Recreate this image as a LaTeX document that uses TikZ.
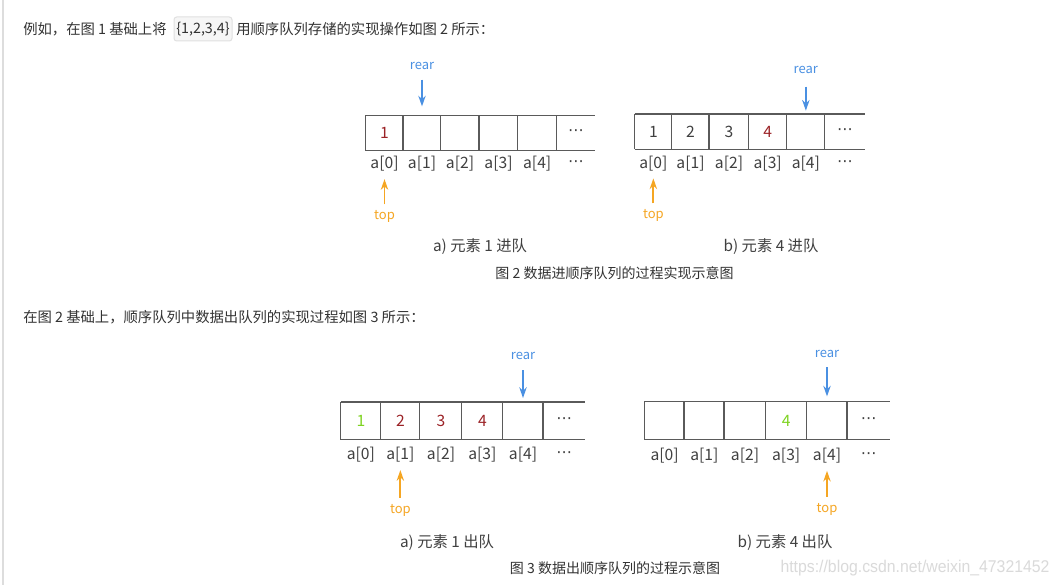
\documentclass[tikz,border=0pt]{standalone}
\usepackage{fontspec}
\setmainfont{Noto Sans CJK SC}
\newfontfamily\wmfont{Liberation Sans}
\newfontfamily\symfont{DejaVu Sans}
\usetikzlibrary{arrows.meta}
\definecolor{txt}{HTML}{333333}
\definecolor{lab}{HTML}{404040}
\definecolor{qline}{HTML}{5A5A5A}
\definecolor{qred}{HTML}{9B2226}
\definecolor{qgreen}{HTML}{7ED321}
\definecolor{rearblue}{HTML}{4A90E2}
\definecolor{toporange}{HTML}{F5A623}
\definecolor{codefill}{HTML}{F6F6F6}
\definecolor{codeline}{HTML}{E0E0E0}
\definecolor{wmark}{HTML}{DADADA}
\definecolor{leftline}{HTML}{DDDDDD}
\newcommand\qdots{{\symfont ⋯}}
\newcommand\myqueue[5]{%
  \foreach \i/\xl/\xr/\tx/\cc in {#2} {
    \node[cellbox, text=\cc, minimum width={(\xr-\xl)*0.75pt}, minimum height={(#4-#3)*0.75pt}]
      (#1\i) at ({(\xl+\xr)/2},{(#3+#4)/2}) {\tx};
    \node[idx] (#1l\i) at ({(\xl+\xr)/2},#5) {\ifnum\i<5 a[\i]\else\qdots\fi};
  }
  \draw[qedge] (#10.north west) -- (#15.north east) (#10.south west) -- (#15.south east);
  \foreach \i in {0,...,5} \draw[qedge] (#1\i.north west) -- (#1\i.south west);
}
\begin{document}
\begin{tikzpicture}[x=0.75pt,y=-0.75pt,
  paratext/.style={font=\fontsize{10.75pt}{12pt}\selectfont, text=txt, inner sep=0, anchor=west},
  captext/.style={font=\fontsize{11.5pt}{13pt}\selectfont, text=lab, inner sep=0},
  figcap/.style={font=\fontsize{10.5pt}{12pt}\selectfont, text=txt, inner sep=0},
  cellbox/.style={inner sep=0, font=\fontsize{11.75pt}{13pt}\selectfont},
  idx/.style={inner sep=0, font=\fontsize{11.75pt}{13pt}\selectfont, text=lab},
  ptr/.style={inner sep=0, font=\fontsize{9.75pt}{11pt}\selectfont},
  qedge/.style={draw=qline, line width=0.95pt},
  reararrow/.style={draw=rearblue, line width=1.3pt, -{Stealth[length=8pt,width=5.5pt]}},
  toparrow/.style={draw=toporange, line width=1.3pt, -{Stealth[length=8pt,width=5.5pt]}, shorten <=4.5pt, shorten >=5.5pt},
  codebox/.style={draw=codeline, fill=codefill, rounded corners=2pt, line width=0.75pt,
    minimum width=43.5pt, minimum height=18pt, inner sep=0,
    font=\fontsize{10.75pt}{12pt}\selectfont, text=txt}
]
\useasboundingbox (0,0) rectangle (1060,585);
\fill[white] (0,0) rectangle (1060,585);
\draw[leftline, line width=1.5pt] (2.5,0) -- (2.5,585);

% paragraph 1
\node[paratext] (p1a) at (23,29) {例如，在图 1 基础上将};
\node[codebox] (code) at (203,29) {\{1,2,3,4\}};
\node[paratext] (p1b) at (236,29) {用顺序队列存储的实现操作如图 2 所示：};

% figure 2 a
\myqueue{A}{0/365.7/403.3/1/qred, 1/403.3/440.7//lab, 2/440.7/479.3//lab, 3/479.3/517.7//lab, 4/517.7/556.7//lab, 5/556.7/595/\qdots/lab}{116}{150}{164}
\node[ptr, text=rearblue] (rA) at (A1 |- 0,65.7) {rear};
\draw[reararrow, shorten <=7.5pt, shorten >=7pt] (rA) -- (A1);
\node[ptr, text=toporange] (tA) at (Al0 |- 0,216.7) {top};
\draw[toparrow] (tA) -- (Al0);

% figure 2 b
\myqueue{B}{0/635/671.7/1/lab, 1/671.7/709.3/2/lab, 2/709.3/748.7/3/lab, 3/748.7/786.7/4/qred, 4/786.7/825//lab, 5/825/865/\qdots/lab}{114.3}{149}{163.3}
\node[ptr, text=rearblue] (rB) at (B4 |- 0,70) {rear};
\draw[reararrow, shorten <=9.4pt, shorten >=2.5pt] (rB) -- (B4);
\node[ptr, text=toporange] (tB) at (Bl0 |- 0,215.7) {top};
\draw[toparrow] (tB) -- (Bl0);

\node[captext] (capA) at (480,247) {a) 元素 1 进队};
\node[captext] (capB) at (771,247) {b) 元素 4 进队};
\node[figcap] (fig2) at (614.5,273) {图 2 数据进顺序队列的过程实现示意图};

% paragraph 2
\node[paratext] (p2) at (23,317) {在图 2 基础上，顺序队列中数据出队列的实现过程如图 3 所示：};

% figure 3 a
\myqueue{C}{0/341/380.7/1/qgreen, 1/380.7/420/2/qred, 2/420/462/3/qred, 3/462/502.7/4/qred, 4/502.7/543.3//lab, 5/543.3/585/\qdots/lab}{402.3}{439.3}{455}
\node[ptr, text=rearblue] (rC) at (C4 |- 0,355.7) {rear};
\draw[reararrow, shorten <=8.1pt, shorten >=3pt] (rC) -- (C4);
\node[ptr, text=toporange] (tC) at (Cl1 |- 0,510) {top};
\draw[toparrow] (tC) -- (Cl1);

% figure 3 b
\myqueue{D}{0/645/684.3//lab, 1/684.3/724.3//lab, 2/724.3/765.7//lab, 3/765.7/806.7/4/qgreen, 4/806.7/847.3//lab, 5/847.3/890/\qdots/lab}{401.7}{439.3}{455.7}
\node[ptr, text=rearblue] (rD) at (D4 |- 0,354) {rear};
\draw[reararrow, shorten <=6.9pt, shorten >=3.75pt] (rD) -- (D4);
\node[ptr, text=toporange] (tD) at (Dl4 |- 0,509) {top};
\draw[toparrow] (tD) -- (Dl4);

\node[captext] (capC) at (447,543) {a) 元素 1 出队};
\node[captext] (capD) at (785,543) {b) 元素 4 出队};
\node[figcap] (fig3) at (615,568) {图 3 数据出顺序队列的过程示意图};
\node[inner sep=0, text=wmark, font=\wmfont\fontsize{12.75pt}{14pt}\selectfont, xscale=0.93] (wm) at (915,568) {https://blog.csdn.net/weixin\_47321452};
\end{tikzpicture}
\end{document}
